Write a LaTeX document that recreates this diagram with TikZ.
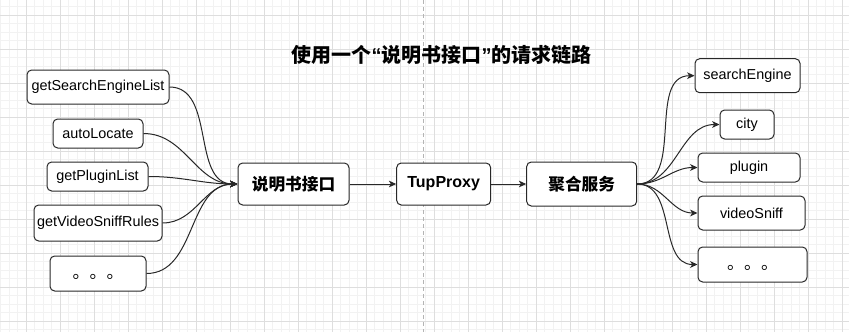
\documentclass[tikz,border=0pt]{standalone}
\usepackage{fontspec}
\setmainfont{Liberation Sans}
\newfontfamily\cjk{Noto Sans CJK SC}
\usetikzlibrary{arrows.meta,positioning}

\definecolor{gridmajor}{RGB}{222,222,222}
\definecolor{gridminor}{RGB}{242,242,242}
\definecolor{pageline}{RGB}{180,180,180}
\definecolor{ink}{RGB}{40,40,40}

% western quotes inside the cjk title
\newcommand{\openq}{{\normalfont\bfseries“}}
\newcommand{\closeq}{{\normalfont\bfseries”}}

\tikzset{
  box/.style 2 args={draw=ink, line width=0.75pt, fill=white, rounded corners=3.5pt,
    inner sep=0pt, minimum width=#1*0.75pt, minimum height=#2*0.75pt,
    font=\fontsize{10.8}{12}\selectfont},
  hub/.style={font=\cjk\bfseries\fontsize{12.5}{14}\selectfont},
  more/.style={font=\cjk\fontsize{12.75}{14}\selectfont, text height=0.88em, text depth=0.12em},
  link/.style={draw=ink, line width=0.75pt, -{Stealth[length=5.5pt,width=5pt,inset=1.5pt]}},
  curvy/.style={link, out=0, in=180},
}

\begin{document}
\begin{tikzpicture}[x=0.75pt, y=-0.75pt]
  \useasboundingbox (0,0) rectangle (849,332);

  % Background grid and page break
  \foreach \i in {0,...,99} \draw[gridminor, line width=0.6pt] (0.5+8.5*\i,0) -- (0.5+8.5*\i,332);
  \foreach \i in {0,...,39} \draw[gridminor, line width=0.6pt] (0,-2+8.5*\i) -- (849,-2+8.5*\i);
  \foreach \i in {0,...,24} \draw[gridmajor, line width=0.6pt] (26+34*\i,0) -- (26+34*\i,332);
  \foreach \i in {0,...,9} \draw[gridmajor, line width=0.6pt] (0,15+34*\i) -- (849,15+34*\i);
  \draw[pageline, line width=0.75pt, dash pattern=on 3pt off 2.25pt] (423.3,0) -- (423.3,332);

  % Title
  \node[font=\cjk\bfseries\fontsize{15}{18}\selectfont] (title) at (441.7,55)
    {使用一个\openq 说明书接口\closeq 的请求链路};

  % Main chain
  \node[box={111}{42}, hub] (api) at (293.5,184) {说明书接口};
  \node[box={94}{42}, font=\bfseries\fontsize{12}{14}\selectfont, right=35pt of api] (proxy) {TupProxy};
  \node[box={110}{44}, hub, right=26.25pt of proxy] (agg) {聚合服务};

  % Callers
  \node[box={142}{34}] (gsel) at (98,87) {getSearchEngineList};
  \node[box={90}{29}] (auto) at (98,133.5) {autoLocate};
  \node[box={101}{29}] (plug) at (97.5,176.5) {getPluginList};
  \node[box={128}{36}] (sniff) at (98,223) {getVideoSniffRules};
  \node[box={96}{35}, more] (lmore) at (98,273.5) {。。。};

  % Services
  \node[box={105}{34}] (seng) at (747.5,75.7) {searchEngine};
  \node[box={54}{29}] (city) at (747,124.5) {city};
  \node[box={102}{29}] (plugin) at (749,167.5) {plugin};
  \node[box={107}{34}] (vsniff) at (751.5,213) {videoSniff};
  \node[box={109}{35}, more] (rmore) at (752.5,264.5) {。。。};

  % Edges
  \foreach \src in {gsel,auto,plug,sniff,lmore}
    \draw[curvy] (\src.east) to (api.west);
  \draw[link] (api) -- (proxy);
  \draw[link] (proxy) -- (agg);
  \foreach \dst in {seng,city,plugin,vsniff,rmore}
    \draw[curvy] (agg.east) to (\dst.west);
\end{tikzpicture}
\end{document}
